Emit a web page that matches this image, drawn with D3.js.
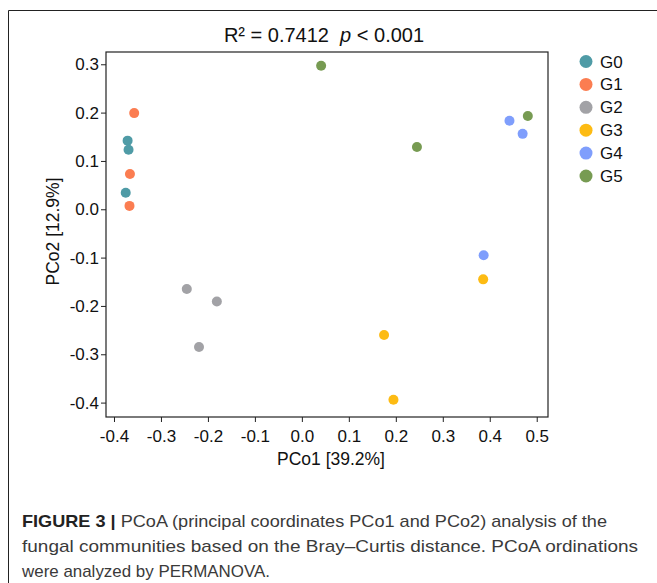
<!DOCTYPE html>
<html>
<head>
<meta charset="utf-8">
<script src="https://cdn.jsdelivr.net/npm/d3@7"></script>
<style>
  body { margin: 0; background: #fff; }
  svg { display: block; }
</style>
</head>
<body>
<svg id="chart" width="657" height="583"></svg>
<script>
"use strict"

const groups = ["G0", "G1", "G2", "G3", "G4", "G5"]
const colors = ["#4f9ba6", "#fb7d51", "#a2a2a6", "#fdbb13", "#7f9efc", "#779b52"]

// PCo1 / PCo2 coordinates per group
const pco1 = [
    [-0.371, -0.369, -0.375],
    [-0.357, -0.366, -0.367],
    [-0.245, -0.181, -0.219],
    [0.175, 0.195, 0.386],
    [0.387, 0.442, 0.470],
    [0.481, 0.041, 0.245]
]
const pco2 = [
    [0.142, 0.123, 0.034],
    [0.199, 0.073, 0.007],
    [-0.165, -0.191, -0.285],
    [-0.260, -0.394, -0.145],
    [-0.095, 0.183, 0.156],
    [0.193, 0.297, 0.129]
]

const xTicks = [-0.4, -0.3, -0.2, -0.1, 0.0, 0.1, 0.2, 0.3, 0.4, 0.5]
const yTicks = [0.3, 0.2, 0.1, 0.0, -0.1, -0.2, -0.3, -0.4]

const captionLines = [
    "PCoA (principal coordinates PCo1 and PCo2) analysis of the",
    "fungal communities based on the Bray\u2013Curtis distance. PCoA ordinations",
    "were analyzed by PERMANOVA."
]

const svg = d3.select("#chart")
const font = "'Liberation Sans', Arial, sans-serif"

const plot = {left: 106, right: 548, top: 52, bottom: 417}

const x = d3.scaleLinear().domain([-0.417, 0.524]).range([plot.left, plot.right])
const y = d3.scaleLinear().domain([0.3254, -0.4298]).range([plot.top, plot.bottom])

// outer frame (left and top edges of the figure box)
svg.append("path")
    .attr("d", "M8.5,583 L8.5,10.5 L657,10.5")
    .attr("fill", "none")
    .attr("stroke", "#222")
    .attr("stroke-width", 1)

// plain hyphen for negatives, like the original
const fmt = d => d.toFixed(1)

const xAxis = d3.axisBottom(x).tickValues(xTicks).tickFormat(fmt).tickSize(5).tickSizeOuter(0)
const yAxis = d3.axisLeft(y).tickValues(yTicks).tickFormat(fmt).tickSize(5).tickSizeOuter(0)

svg.append("g")
    .attr("transform", "translate(0," + plot.bottom + ")")
    .call(xAxis)
    .call(g => g.select(".domain").remove())
    .call(g => g.selectAll("text").attr("dy", "1.0em").style("font-size", "17px").style("font-family", font).attr("fill", "#111"))
    .call(g => g.selectAll("line").attr("stroke", "#222"))

svg.append("g")
    .attr("transform", "translate(" + plot.left + ",0)")
    .call(yAxis)
    .call(g => g.select(".domain").remove())
    .call(g => g.selectAll("text").attr("x", -7).style("font-size", "17px").style("font-family", font).attr("fill", "#111"))
    .call(g => g.selectAll("line").attr("stroke", "#222"))

// plot box
svg.append("rect")
    .attr("x", plot.left)
    .attr("y", plot.top)
    .attr("width", plot.right - plot.left)
    .attr("height", plot.bottom - plot.top)
    .attr("fill", "none")
    .attr("stroke", "#222")
    .attr("stroke-width", 1.2)

// points
groups.forEach((gName, gi) => {
    svg.selectAll(".pt-" + gName)
        .data(d3.range(pco1[gi].length))
        .enter()
        .append("circle")
        .attr("class", "pt-" + gName)
        .attr("cx", i => x(pco1[gi][i]))
        .attr("cy", i => y(pco2[gi][i]))
        .attr("r", 5)
        .attr("fill", colors[gi])
})

// title
const title = svg.append("text")
    .attr("x", (plot.left + plot.right) / 2 - 3)
    .attr("y", 42)
    .attr("text-anchor", "middle")
    .style("font-family", font)
    .style("font-size", "20px")
    .attr("fill", "#111")
title.append("tspan").text("R\u00b2 = 0.7412\u00a0\u00a0")
title.append("tspan").style("font-style", "italic").text("p")
title.append("tspan").text(" < 0.001")

// axis titles
svg.append("text")
    .attr("x", (plot.left + plot.right) / 2 + 4)
    .attr("y", 465)
    .attr("text-anchor", "middle")
    .style("font-family", font)
    .style("font-size", "17.5px")
    .attr("fill", "#111")
    .text("PCo1 [39.2%]")

svg.append("text")
    .attr("transform", "translate(59," + ((plot.top + plot.bottom) / 2 - 3) + ") rotate(-90)")
    .attr("text-anchor", "middle")
    .style("font-family", font)
    .style("font-size", "17.5px")
    .attr("fill", "#111")
    .text("PCo2 [12.9%]")

// legend
const legend = svg.selectAll(".legend")
    .data(groups)
    .enter()
    .append("g")
    .attr("class", "legend")
    .attr("transform", (d, i) => "translate(586," + (61.5 + i * 22.9) + ")")

legend.append("circle")
    .attr("r", 6.5)
    .attr("fill", (d, i) => colors[i])

legend.append("text")
    .attr("x", 14)
    .attr("y", 6)
    .style("font-family", font)
    .style("font-size", "17px")
    .attr("fill", "#111")
    .text(d => d)

// caption
const capFont = "'Liberation Sans Narrow', 'Liberation Sans', Arial, sans-serif"
const capLengths = [585, 616, 248]
const capY = [527, 552, 577]

captionLines.forEach((line, i) => {
    const t = svg.append("text")
        .attr("x", 22)
        .attr("y", capY[i])
        .attr("textLength", capLengths[i])
        .attr("lengthAdjust", "spacingAndGlyphs")
        .style("font-family", capFont)
        .style("font-size", "17px")
        .attr("fill", "#3a3a3a")
    if (i === 0) {
        t.append("tspan").style("font-weight", "bold").attr("fill", "#222").text("FIGURE 3 | ")
    }
    t.append("tspan").text(line)
})
</script>
</body>
</html>
